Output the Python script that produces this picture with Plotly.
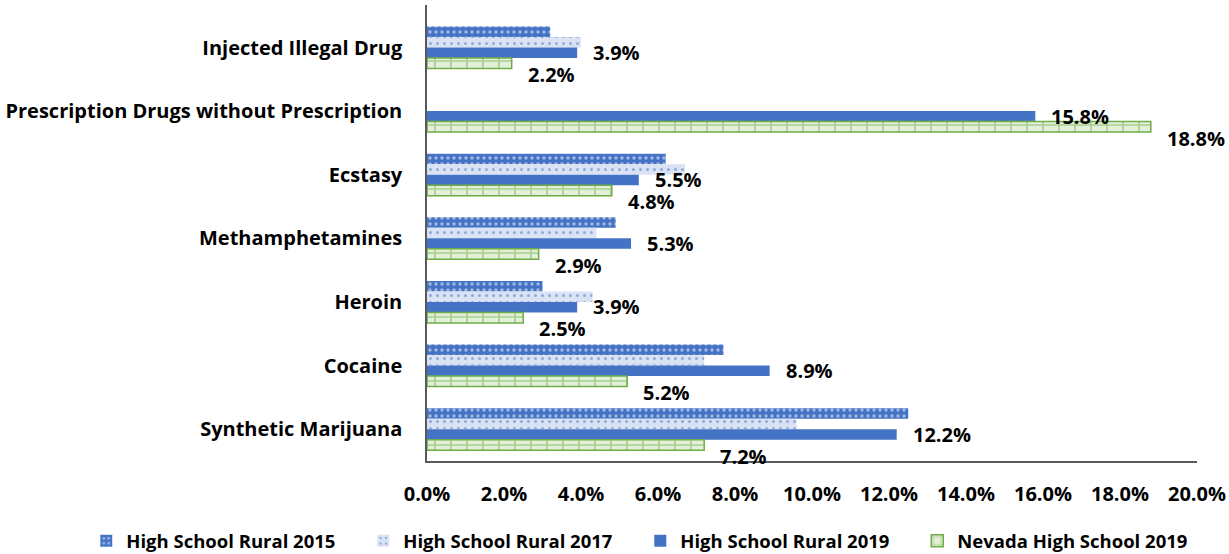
import plotly.graph_objects as go

# Data (percent), categories top to bottom
categories = [
    "Injected Illegal Drug",
    "Prescription Drugs without Prescription",
    "Ecstasy",
    "Methamphetamines",
    "Heroin",
    "Cocaine",
    "Synthetic Marijuana",
]
rural_2015 = [3.2, None, 6.2, 4.9, 3.0, 7.7, 12.5]
rural_2017 = [4.0, None, 6.7, 4.4, 4.3, 7.2, 9.6]
rural_2019 = [3.9, 15.8, 5.5, 5.3, 3.9, 8.9, 12.2]
nevada_2019 = [2.2, 18.8, 4.8, 2.9, 2.5, 5.2, 7.2]
x_ticks = [0, 2, 4, 6, 8, 10, 12, 14, 16, 18, 20]

BLUE = "#4472C4"
LIGHT_BLUE = "#DAE3F3"
GREEN = "#70AD47"
LIGHT_GREEN = "#E2F0D9"
FONT = "Open Sans, sans-serif"

fig = go.Figure()

fig.add_trace(go.Bar(
    y=categories, x=rural_2015, orientation="h",
    name="High School Rural 2015",
    marker=dict(
        color=BLUE, line=dict(width=0),
        pattern=dict(shape=".", fgcolor="white", bgcolor=BLUE, size=6, solidity=0.25),
    ),
))
fig.add_trace(go.Bar(
    y=categories, x=rural_2017, orientation="h",
    name="High School Rural 2017",
    marker=dict(
        color=LIGHT_BLUE, line=dict(width=0),
        pattern=dict(shape=".", fgcolor=BLUE, bgcolor=LIGHT_BLUE, size=7, solidity=0.15),
    ),
))
fig.add_trace(go.Bar(
    y=categories, x=rural_2019, orientation="h",
    name="High School Rural 2019",
    marker=dict(color=BLUE, line=dict(width=0)),
))
fig.add_trace(go.Bar(
    y=categories, x=nevada_2019, orientation="h",
    name="Nevada High School 2019",
    marker=dict(
        color=LIGHT_GREEN, line=dict(color=GREEN, width=1.5),
        pattern=dict(shape="+", fgcolor=GREEN, bgcolor=LIGHT_GREEN, size=16, solidity=0.2),
    ),
))

# Data labels for the 2019 series
label_font = dict(family=FONT, size=20, color="black", weight="bold")
for series, yshift in [(rural_2019, -5), (nevada_2019, -27)]:
    for cat, val in zip(categories, series):
        fig.add_annotation(
            x=val, y=cat, text=f"{val:.1f}%",
            xanchor="left", yanchor="middle",
            xshift=14, yshift=yshift,
            showarrow=False, font=label_font,
        )

fig.update_layout(
    width=1229, height=554,
    barmode="group",
    bargap=0.34,
    bargroupgap=0,
    paper_bgcolor="white",
    plot_bgcolor="white",
    font=dict(family=FONT, size=20, color="black", weight="bold"),
    margin=dict(l=427, r=32, t=5, b=93, autoexpand=False),
    showlegend=True,
    # anchored left of / below the plot area so it may use the full width in one row
    legend=dict(
        orientation="h",
        x=-0.4425, y=-0.176,
        xanchor="left", yanchor="middle",
        font=dict(family=FONT, size=18.5, color="black", weight="bold"),
        itemwidth=30,
        entrywidth=232, entrywidthmode="pixels",
    ),
)

fig.update_xaxes(
    range=[0, 20],
    tickvals=x_ticks,
    ticktext=[f"{t:.1f}%" for t in x_ticks],
    showgrid=False,
    zeroline=False,
    automargin=False,
    showline=True, linecolor="#595959", linewidth=1.5,
    ticks="", ticklabelstandoff=14,
    tickfont=dict(family=FONT, size=20, weight="bold"),
)
fig.update_yaxes(
    autorange="reversed",
    showgrid=False,
    automargin=False,
    showline=True, linecolor="#595959", linewidth=1.5,
    ticks="", ticklabelstandoff=19,
    tickfont=dict(family=FONT, size=20, weight="bold"),
)

# drop the browser's default body margin so the figure sits at the page corner
fig.write_html(
    "out.html",
    config={"displayModeBar": False},
    post_script="document.body.style.margin='0';",
)
